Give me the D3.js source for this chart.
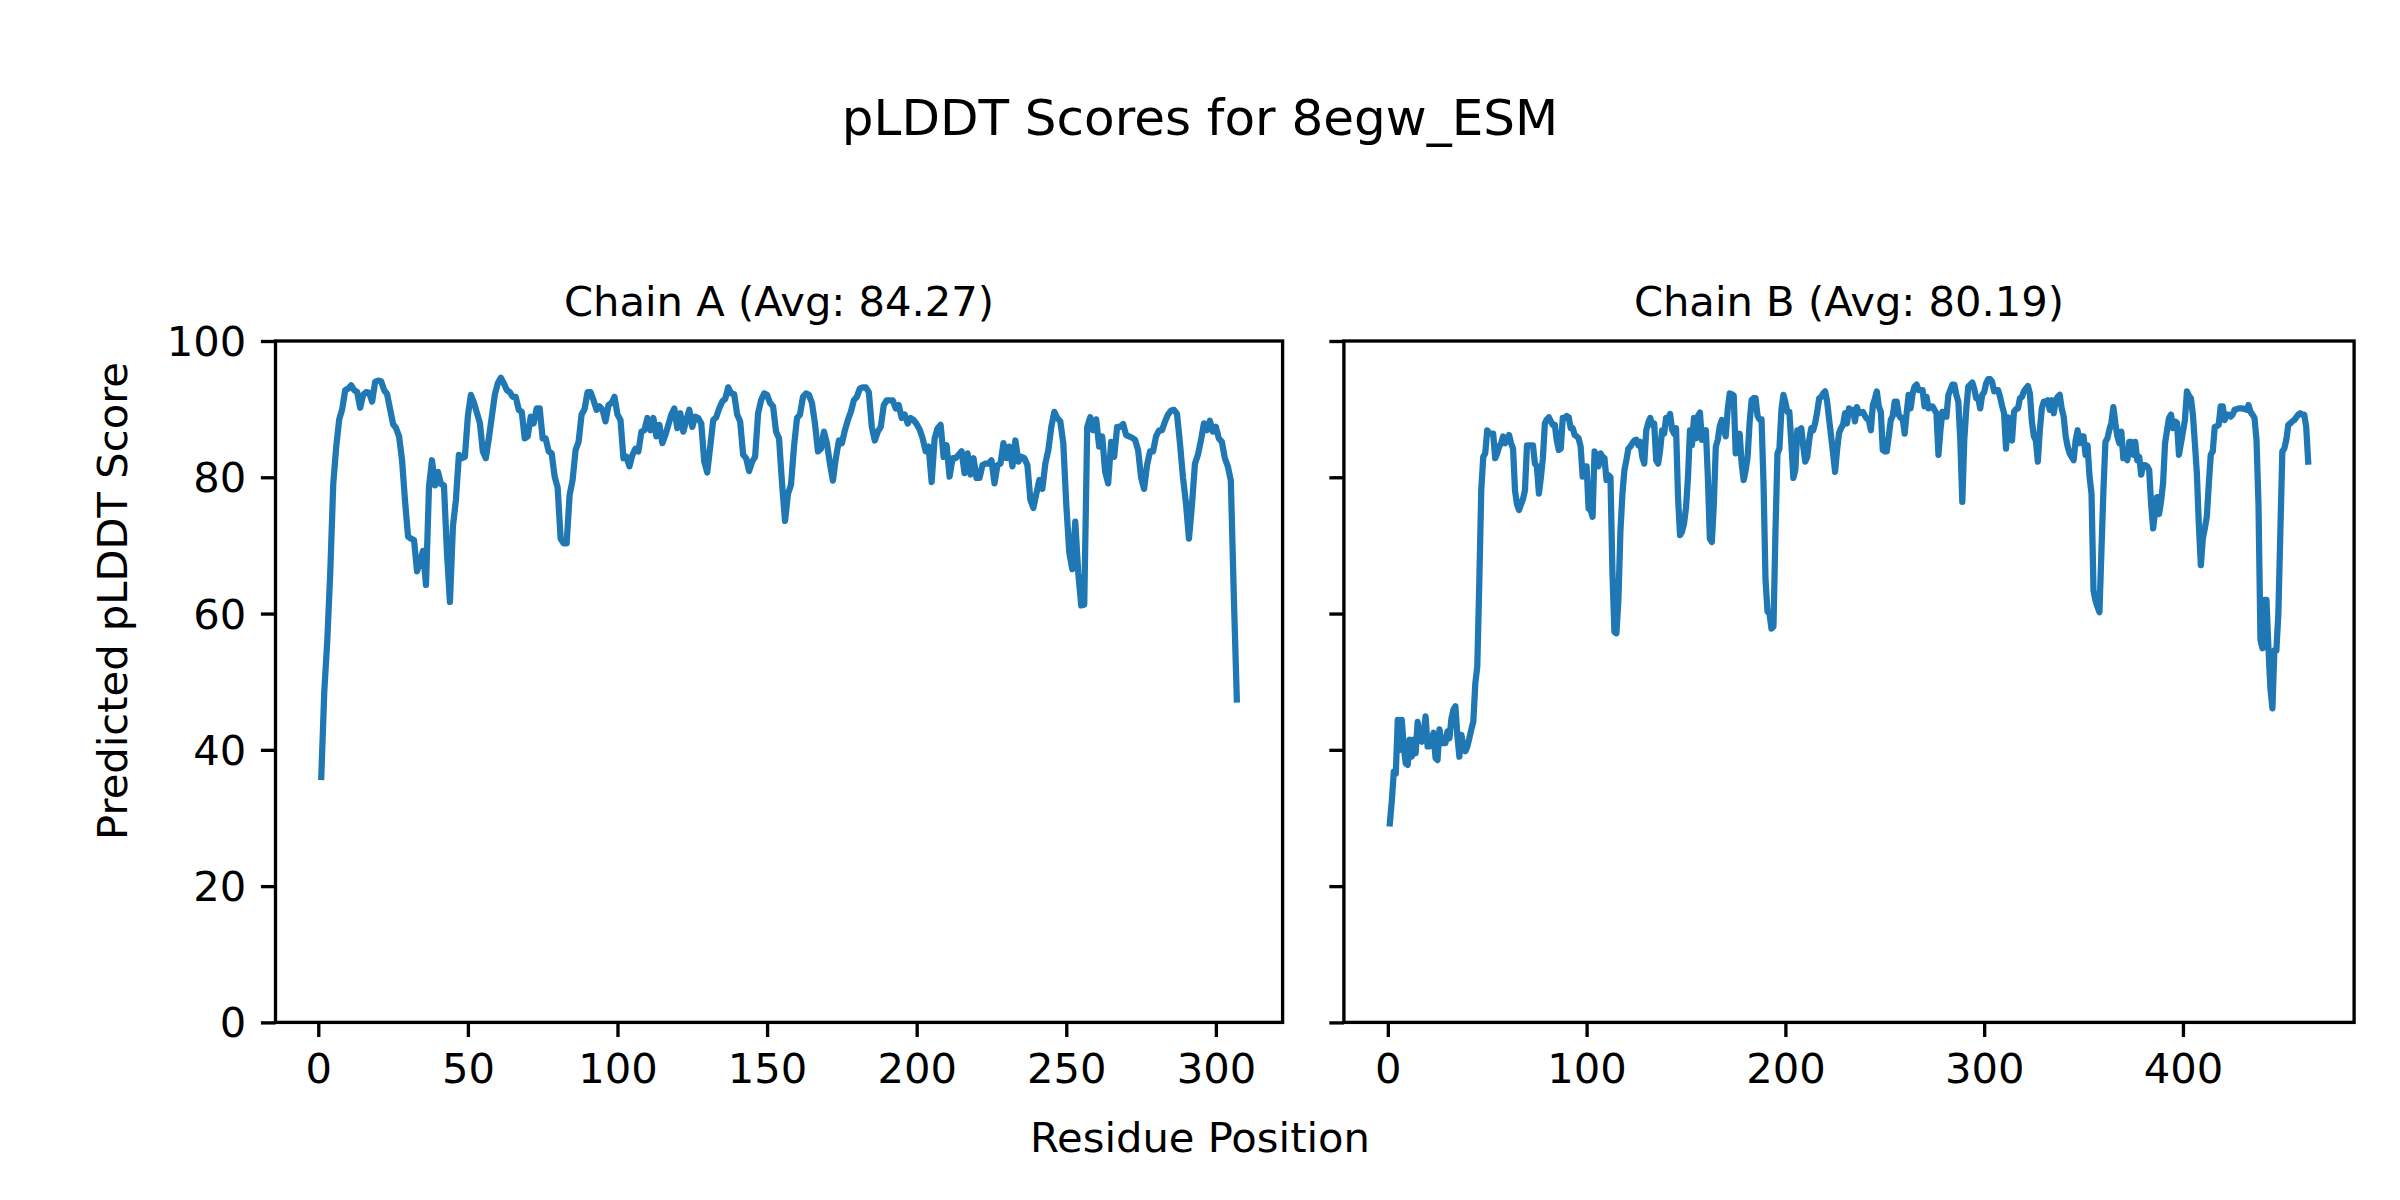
<!DOCTYPE html>
<html>
<head>
<meta charset="utf-8">
<script src="https://cdn.jsdelivr.net/npm/d3@7"></script>
<style>
  html, body { margin: 0; padding: 0; background: #fff; }
  svg { display: block; }
  text { font-family: "DejaVu Sans", sans-serif; fill: #000; }
</style>
</head>
<body>
<svg id="chart" width="2400" height="1200"></svg>
<script>
// ---------------- DATA ----------------
const figTitle = "pLDDT Scores for 8egw_ESM";
const xLabel = "Residue Position";
const yLabel = "Predicted pLDDT Score";
const chainNames = ["Chain A (Avg: 84.27)", "Chain B (Avg: 80.19)"];

const yTicks = [0, 20, 40, 60, 80, 100];
const xTicksA = [0, 50, 100, 150, 200, 250, 300];
const xTicksB = [0, 100, 200, 300, 400];

const plddtA = [
  36.0, 48.5, 56.0, 66.0, 79.0, 84.5, 88.5, 90.0, 92.8, 93.0,
  93.5, 92.8, 92.5, 90.2, 92.1, 92.5, 92.4, 91.1, 94.0, 94.2,
  94.1, 92.8, 92.2, 90.0, 87.8, 87.2, 86.0, 82.5, 76.5, 71.3,
  71.0, 70.8, 66.2, 67.5, 69.2, 64.2, 78.6, 82.5, 78.8, 80.8,
  79.0, 78.8, 69.0, 61.7, 72.8, 76.7, 83.3, 82.8, 83.0, 89.0,
  92.1, 91.0, 89.5, 88.0, 83.8, 82.8, 85.7, 88.9, 92.1, 93.8,
  94.6, 93.8, 92.8, 92.5, 91.8, 91.8, 89.9, 89.6, 85.7, 86.0,
  88.9, 87.9, 90.1, 90.1, 85.7, 85.7, 83.8, 83.5, 80.1, 78.5,
  71.0, 70.3, 70.3, 77.4, 79.6, 84.0, 85.2, 89.2, 90.0, 92.5,
  92.5, 91.3, 89.9, 90.4, 89.9, 88.2, 90.6, 90.9, 91.8, 89.2,
  88.4, 82.8, 83.0, 81.6, 83.3, 84.2, 83.8, 86.7, 86.9, 88.7,
  86.9, 88.7, 86.0, 87.7, 85.0, 86.2, 87.7, 89.2, 90.1, 87.2,
  89.4, 86.7, 88.4, 89.9, 87.4, 88.9, 88.7, 87.9, 82.3, 80.7,
  84.5, 88.4, 88.8, 90.1, 91.1, 91.5, 93.2, 92.3, 92.2, 89.2,
  88.2, 83.3, 82.8, 80.9, 82.3, 83.0, 89.4, 91.3, 92.3, 92.1,
  90.9, 90.4, 86.7, 85.7, 79.1, 73.6, 77.6, 78.9, 84.5, 88.7,
  89.2, 91.8, 92.3, 92.1, 90.9, 87.9, 83.8, 84.2, 86.7, 85.0,
  82.0, 79.5, 82.8, 85.4, 85.0, 86.9, 88.4, 89.6, 91.3, 91.8,
  93.0, 93.2, 93.2, 92.5, 87.4, 85.4, 86.7, 87.4, 90.6, 91.3,
  91.3, 91.3, 90.1, 90.6, 88.7, 89.2, 87.9, 88.7, 88.4, 87.8,
  87.0, 85.7, 83.8, 84.5, 79.3, 85.7, 87.2, 87.7, 83.0, 84.7,
  80.1, 82.8, 82.8, 83.3, 83.8, 80.6, 83.5, 80.4, 82.8, 79.9,
  79.9, 81.8, 82.0, 82.0, 82.5, 79.1, 81.8, 82.0, 85.0, 82.8,
  84.5, 81.6, 85.4, 82.3, 83.0, 82.8, 81.8, 76.7, 75.5, 77.6,
  79.6, 78.3, 82.0, 84.0, 87.4, 89.6, 88.7, 88.2, 85.0, 76.0,
  69.0, 66.5, 73.5, 66.0, 61.2, 61.3, 87.4, 88.8, 86.9, 88.5,
  84.5, 86.0, 80.8, 79.1, 85.2, 83.0, 87.4, 87.4, 87.8, 86.2,
  86.0, 85.8, 85.5, 84.0, 80.0, 78.3, 81.8, 83.8, 83.8, 86.0,
  86.9, 86.9, 88.2, 89.2, 89.8, 89.9, 89.3, 85.0, 80.0, 76.2,
  71.0, 75.9, 82.0, 83.3, 85.4, 87.9, 86.9, 88.3, 86.7, 87.4,
  85.7, 85.2, 82.8, 81.6, 79.5, 62.5, 47.4
];

const plddtB = [
  29.2, 32.5, 36.8, 36.5, 44.4, 40.0, 44.4, 40.5, 38.0, 37.8,
  41.5, 39.0, 41.5, 39.5, 44.1, 41.5, 41.2, 42.5, 44.9, 40.5,
  40.5, 41.5, 42.5, 38.8, 38.5, 43.0, 41.0, 41.0, 41.0, 42.7,
  41.7, 44.6, 45.9, 46.4, 42.0, 39.0, 42.2, 40.5, 39.8, 40.5,
  41.7, 43.0, 44.1, 49.7, 52.2, 64.4, 78.1, 83.0, 83.5, 86.9,
  86.5, 86.4, 86.4, 82.8, 83.5, 84.5, 85.0, 86.0, 85.0, 85.5,
  86.2, 85.0, 84.2, 78.0, 76.0, 75.2, 76.0, 76.8, 78.1, 84.7,
  84.7, 84.7, 84.7, 82.0, 81.6, 77.6, 80.0, 82.8, 87.9, 88.5,
  88.8, 88.2, 87.7, 87.7, 85.4, 84.0, 84.2, 88.7, 88.7, 89.0,
  88.8, 87.2, 87.2, 86.2, 86.0, 85.7, 84.5, 80.1, 81.6, 81.6,
  75.4, 75.2, 74.2, 83.8, 82.5, 81.6, 83.5, 83.0, 82.8, 79.6,
  80.3, 80.0, 66.0, 57.3, 57.1, 62.0, 72.0, 77.5, 81.0, 82.5,
  84.2, 84.5, 85.0, 85.4, 85.5, 84.7, 85.2, 83.0, 82.0, 86.9,
  88.0, 88.7, 87.7, 87.9, 82.5, 82.0, 84.0, 86.9, 86.4, 88.7,
  88.7, 89.3, 87.0, 86.4, 87.2, 77.0, 71.5, 72.0, 73.2, 75.5,
  80.0, 86.9, 84.7, 88.7, 85.7, 89.0, 89.5, 85.5, 86.5, 86.9,
  80.0, 71.0, 70.5, 76.0, 84.5, 85.5, 87.5, 88.4, 87.0, 86.0,
  90.0, 92.3, 92.2, 92.0, 83.5, 85.5, 86.4, 82.0, 79.6, 81.0,
  83.0, 88.0, 91.3, 91.6, 91.6, 89.0, 88.5, 88.5, 79.1, 65.0,
  60.3, 60.0, 57.8, 58.1, 72.0, 83.5, 84.2, 89.9, 92.1, 91.0,
  89.6, 89.6, 85.0, 79.9, 81.1, 86.9, 86.9, 87.2, 84.5, 82.3,
  83.0, 85.5, 87.2, 86.9, 88.0, 89.6, 91.6, 91.8, 92.3, 92.6,
  91.1, 88.5, 86.0, 83.5, 80.8, 84.0, 86.5, 87.2, 87.7, 89.4,
  87.9, 90.1, 89.9, 89.9, 88.2, 90.3, 89.4, 89.5, 89.6, 89.0,
  88.6, 88.4, 86.9, 90.6, 91.5, 92.6, 90.4, 89.6, 84.0, 83.8,
  83.8, 86.0, 88.4, 89.0, 91.1, 91.1, 89.2, 88.7, 88.7, 86.4,
  89.4, 92.1, 90.1, 92.3, 93.3, 93.6, 92.8, 92.8, 92.8, 90.4,
  91.8, 90.1, 90.4, 90.4, 89.9, 89.4, 83.3, 86.9, 89.6, 88.9,
  88.9, 92.1, 92.8, 93.6, 93.6, 92.1, 91.1, 85.5, 76.4, 85.5,
  90.0, 93.3, 93.6, 93.9, 93.0, 91.6, 91.6, 90.1, 92.1, 92.5,
  93.8, 94.4, 94.4, 94.0, 92.6, 92.8, 92.8, 91.8, 90.5, 89.4,
  84.2, 88.8, 86.0, 85.4, 89.6, 90.0, 90.1, 91.6, 91.8, 92.6,
  93.0, 93.4, 92.3, 88.2, 86.0, 85.4, 82.3, 86.9, 90.1, 91.1,
  91.1, 91.3, 89.9, 91.3, 89.4, 91.3, 91.8, 92.1, 90.1, 88.9,
  86.0, 84.5, 83.5, 83.0, 82.5, 85.4, 86.9, 85.0, 86.0, 86.0,
  83.3, 84.7, 80.1, 77.6, 63.4, 61.9, 61.0, 60.2, 69.3, 78.1,
  85.2, 85.7, 87.0, 88.0, 90.3, 87.9, 86.0, 85.0, 86.7, 82.8,
  83.3, 82.5, 85.2, 85.2, 83.3, 85.2, 82.5, 83.0, 80.4, 81.8,
  81.8, 81.6, 81.1, 76.0, 72.5, 75.0, 77.1, 74.6, 76.5, 79.1,
  85.0, 86.9, 88.7, 89.2, 87.2, 88.2, 88.0, 83.3, 85.0, 86.7,
  88.4, 92.6, 92.0, 91.6, 89.2, 85.0, 80.6, 73.0, 67.1, 71.0,
  72.5, 74.2, 79.0, 83.3, 83.8, 87.4, 87.5, 87.7, 90.4, 90.4,
  88.4, 89.2, 89.2, 88.9, 89.2, 89.9, 90.0, 90.1, 90.1, 90.1,
  90.0, 89.9, 90.6, 89.6, 89.2, 88.7, 85.5, 76.0, 56.1, 54.9,
  62.0, 62.0, 55.0, 49.0, 46.1, 54.6, 54.6, 60.0, 72.0, 83.8,
  84.2, 85.5, 87.7, 87.9, 88.2, 88.4, 88.8, 89.2, 89.4, 89.2,
  89.2, 87.4, 82.3
];

// ---------------- LAYOUT ----------------
const DPI = 300, PT = DPI / 72;
const tickFont = 10 * PT;       // 41.7px
const titleFont = 10 * PT;
const supFont = 12 * PT;
const tickLen = 3.5 * PT, tickPad = 3.5 * PT;
const spineW = 0.8 * PT;
const lineW = 1.5 * PT;
const color = "#1f77b4";

const plotTop = 341, plotBottom = 1022.4;
const panels = [
  { left: 275.5, right: 1282.6, data: plddtA, ticks: xTicksA, title: chainNames[0], yLabels: true },
  { left: 1343.9, right: 2354.1, data: plddtB, ticks: xTicksB, title: chainNames[1], yLabels: false }
];

const svg = d3.select("#chart");

// Figure-level texts
svg.append("text")
  .attr("x", 1200).attr("y", 118)
  .attr("text-anchor", "middle").attr("dominant-baseline", "central")
  .style("font-size", supFont + "px")
  .text(figTitle);

svg.append("text")
  .attr("x", 1200).attr("y", 1137)
  .attr("text-anchor", "middle").attr("dominant-baseline", "central")
  .style("font-size", tickFont + "px")
  .text(xLabel);

svg.append("text")
  .attr("transform", "translate(112,601) rotate(-90)")
  .attr("text-anchor", "middle").attr("dominant-baseline", "central")
  .style("font-size", tickFont + "px")
  .text(yLabel);

const y = d3.scaleLinear().domain([0, 100]).range([plotBottom, plotTop]);

panels.forEach(p => {
  const residues = d3.range(1, p.data.length + 1);
  const n = residues.length;
  const pad = 0.05 * (n - 1);
  const x = d3.scaleLinear().domain([1 - pad, n + pad]).range([p.left, p.right]);

  const g = svg.append("g");

  // line
  const line = d3.line().x((d, i) => x(residues[i])).y(d => y(d));
  g.append("path")
    .datum(p.data)
    .attr("d", line)
    .attr("fill", "none")
    .attr("stroke", color)
    .attr("stroke-width", lineW)
    .attr("stroke-linejoin", "round")
    .attr("stroke-linecap", "square");

  // x axis
  const xAxis = d3.axisBottom(x).tickValues(p.ticks).tickSize(tickLen).tickPadding(tickPad)
    .tickFormat(d3.format("d"));
  const gx = g.append("g").attr("transform", `translate(0,${plotBottom})`).call(xAxis);
  gx.select(".domain").remove();
  gx.selectAll(".tick line").attr("stroke", "#000").attr("stroke-width", spineW);
  gx.selectAll(".tick text")
    .attr("fill", "#000")
    .style("font-size", tickFont + "px")
    .style("font-family", "DejaVu Sans")
    .attr("dy", null)
    .attr("y", tickLen + tickPad + 0.729 * tickFont + 1);

  // y axis
  const yAxis = d3.axisLeft(y).tickValues(yTicks).tickSize(tickLen).tickPadding(tickPad)
    .tickFormat(p.yLabels ? d3.format("d") : () => "");
  const gy = g.append("g").attr("transform", `translate(${p.left},0)`).call(yAxis);
  gy.select(".domain").remove();
  gy.selectAll(".tick line").attr("stroke", "#000").attr("stroke-width", spineW);
  gy.selectAll(".tick text")
    .attr("fill", "#000")
    .style("font-size", tickFont + "px")
    .style("font-family", "DejaVu Sans")
    .attr("dy", null)
    .attr("dominant-baseline", "central");

  // frame (spines)
  g.append("rect")
    .attr("x", p.left).attr("y", plotTop)
    .attr("width", p.right - p.left).attr("height", plotBottom - plotTop)
    .attr("fill", "none").attr("stroke", "#000").attr("stroke-width", spineW);

  // title
  g.append("text")
    .attr("x", (p.left + p.right) / 2).attr("y", plotTop - 6 * PT)
    .attr("text-anchor", "middle")
    .style("font-size", titleFont + "px")
    .text(p.title);
});
</script>
</body>
</html>
